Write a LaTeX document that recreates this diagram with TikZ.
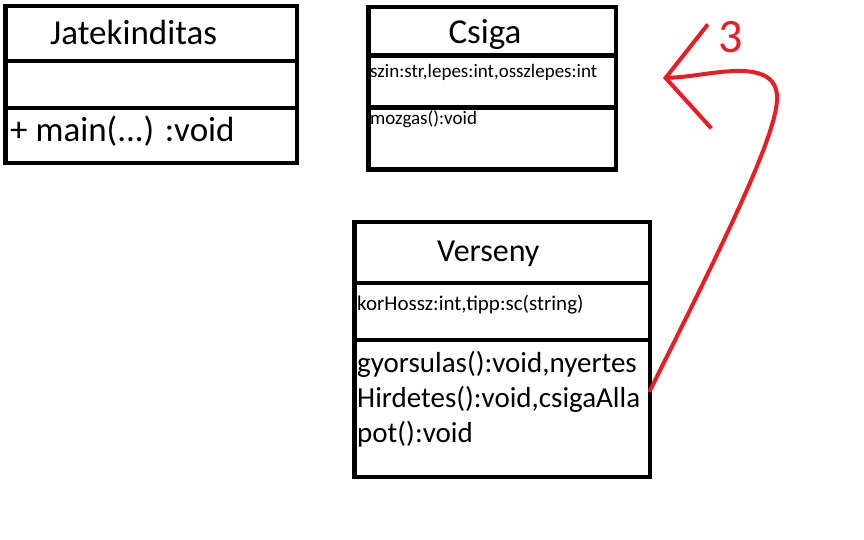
\documentclass[tikz,border=0pt]{standalone}
\usepackage{fontspec}
\setmainfont{Carlito}
\usepackage{tikz}
\usetikzlibrary{arrows.meta, positioning}
\definecolor{PaintRed}{HTML}{ED1C24}

\tikzset{
  rekesz/.style={draw, line width=4.5pt, inner sep=0pt, outer sep=0pt},
  felirat/.style={anchor=base west, inner sep=0pt, font=\fontsize{35}{35}\selectfont},
  apro/.style={anchor=base west, inner sep=0pt, font=\fontsize{19}{19}\selectfont},
  metodus/.style={anchor=base west, inner sep=0pt, font=\fontsize{29}{29}\selectfont},
  nyil/.style={draw=PaintRed, line width=4pt, line cap=round,
               -{Straight Barb[length=44pt, width=104pt]}}
}

\begin{document}
\begin{tikzpicture}[x=1pt, y=-1pt]
  \useasboundingbox (0,0) rectangle (864,540);

  % Jatekinditas
  \node[rekesz, anchor=north west, minimum width=291.5pt, minimum height=55pt] (jatek-fej) at (5.5,6) {};
  \node[rekesz, minimum width=291.5pt, minimum height=47pt, below=0pt of jatek-fej] (jatek-attr) {};
  \node[rekesz, minimum width=291.5pt, minimum height=55pt, below=0pt of jatek-attr] (jatek-mod) {};
  \node[felirat] (jatek-nev) at (50,45) {Jatekinditas};
  \node[felirat] (jatek-main) at (10,142) {+ main(...) :void};

  % Csiga
  \node[rekesz, anchor=north west, minimum width=247.5pt, minimum height=48.5pt] (csiga-fej) at (368.5,7) {};
  \node[rekesz, minimum width=247.5pt, minimum height=52pt, below=0pt of csiga-fej] (csiga-attr) {};
  \node[rekesz, minimum width=247.5pt, minimum height=62pt, below=0pt of csiga-attr] (csiga-mod) {};
  \node[felirat, anchor=base] (csiga-nev) at (485,44) {Csiga};
  \node[apro] (csiga-mezok) at (370,78) {szin:str,lepes:int,osszlepes:int};
  \node[apro] (csiga-mozgas) at (370,125) {mozgas():void};

  % Verseny
  \node[rekesz, anchor=north west, minimum width=295.5pt, minimum height=61pt] (verseny-fej) at (354.5,222) {};
  \node[rekesz, minimum width=295.5pt, minimum height=57pt, below=0pt of verseny-fej] (verseny-attr) {};
  \node[rekesz, minimum width=295.5pt, minimum height=137pt, below=0pt of verseny-attr] (verseny-mod) {};
  \node[felirat, font=\fontsize{32}{32}\selectfont] (verseny-nev) at (437,261) {Verseny};
  \node[apro, font=\fontsize{21}{21}\selectfont] (verseny-mezok) at (357,310) {korHossz:int,tipp:sc(string)};
  \node[metodus] (verseny-m1) at (357,372) {gyorsulas():void,nyertes};
  \node[metodus] (verseny-m2) at (357,407) {Hirdetes():void,csigaAlla};
  \node[metodus] (verseny-m3) at (357,442) {pot():void};

  % nyil
  \coordinate (csucs) at (663,78);
  \draw[nyil] ([yshift=18pt]verseny-mod.east) .. controls (720,250) and (775,140) .. (777,100)
    .. controls (778,80) and (765,70) .. (735,71) .. controls (710,72) and (692,77) .. (csucs);
  \node[text=PaintRed, font=\fontsize{48}{48}\selectfont] (harom) at (731,37) {3};
\end{tikzpicture}
\end{document}
